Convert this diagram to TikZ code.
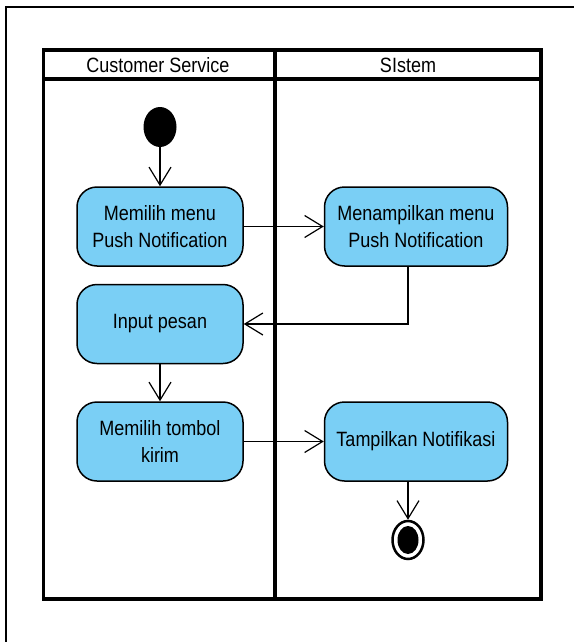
\documentclass[tikz,border=0pt]{standalone}
\usepackage{fontspec}
\setmainfont{Liberation Sans}
\usepackage{tikz}
\usetikzlibrary{arrows.meta}
\usetikzlibrary{shapes.geometric}
\tikzset{>={Straight Barb[length=18pt,width=22pt,line width=1.2pt]}}
\definecolor{act}{HTML}{7ACFF5}
\newcommand{\tx}[1]{\scalebox{1}[1.15]{#1}}
\tikzset{
  action/.style={draw,line width=1.5pt,fill=act,rounded corners=20pt,
    minimum height=79pt,align=center,font=\fontsize{18}{27}\selectfont},
  lane/.style={line width=3.5pt,line cap=rect},
  flow/.style={->,line width=1.3pt}
}

\begin{document}
\begin{tikzpicture}[x=1pt,y=-1pt]
  \useasboundingbox (0,0) rectangle (574,642);
  \def\xa{160}
  \def\xb{416}
  % frame
  \draw[line width=2pt] (6,642) -- (6,7) -- (574,7);
  % swimlanes
  \draw[lane] (43.5,50) rectangle (541,599);
  \draw[lane] (43.5,79) -- (541,79);
  \draw[lane] (275,50) -- (275,599);
  \node[font=\fontsize{18}{20}\selectfont] (cs) at (158,65) {\tx{Customer Service}};
  \node[font=\fontsize{18}{20}\selectfont] (sis) at (408,65) {\tx{SIstem}};
  % nodes
  \node[ellipse,fill=black,minimum width=33pt,minimum height=40pt,inner sep=0pt] (start) at (\xa,127) {};
  \node[action,minimum width=166pt] (n1) at (\xa,226.5) {\tx{Memilih menu}\\\tx{Push Notification}};
  \node[action,minimum width=183pt] (n2) at (\xb,226.5) {\tx{Menampilkan menu}\\\tx{Push Notification}};
  \node[action,minimum width=166pt] (n3) at (\xa,324) {\tx{Input pesan}};
  \node[action,minimum width=166pt] (n4) at (\xa,441.5) {\tx{Memilih tombol}\\\tx{kirim}};
  \node[action,minimum width=183pt] (n5) at (\xb,441.5) {\tx{Tampilkan Notifikasi}};
  \node[ellipse,draw,line width=2.5pt,minimum width=31pt,minimum height=38pt,inner sep=0pt] (fin) at (408,540) {};
  \node[ellipse,fill=black,minimum width=21pt,minimum height=28pt,inner sep=0pt] (fin2) at (fin) {};
  % flows
  \draw[flow] (start) -- (n1);
  \draw[flow] (n1) -- (n2);
  \draw[flow] (n2.south -| fin) |- (n3.east);
  \draw[flow] (n3) -- (n4);
  \draw[flow] (n4) -- (n5);
  \draw[flow] (n5.south -| fin) -- (fin);
\end{tikzpicture}
\end{document}
